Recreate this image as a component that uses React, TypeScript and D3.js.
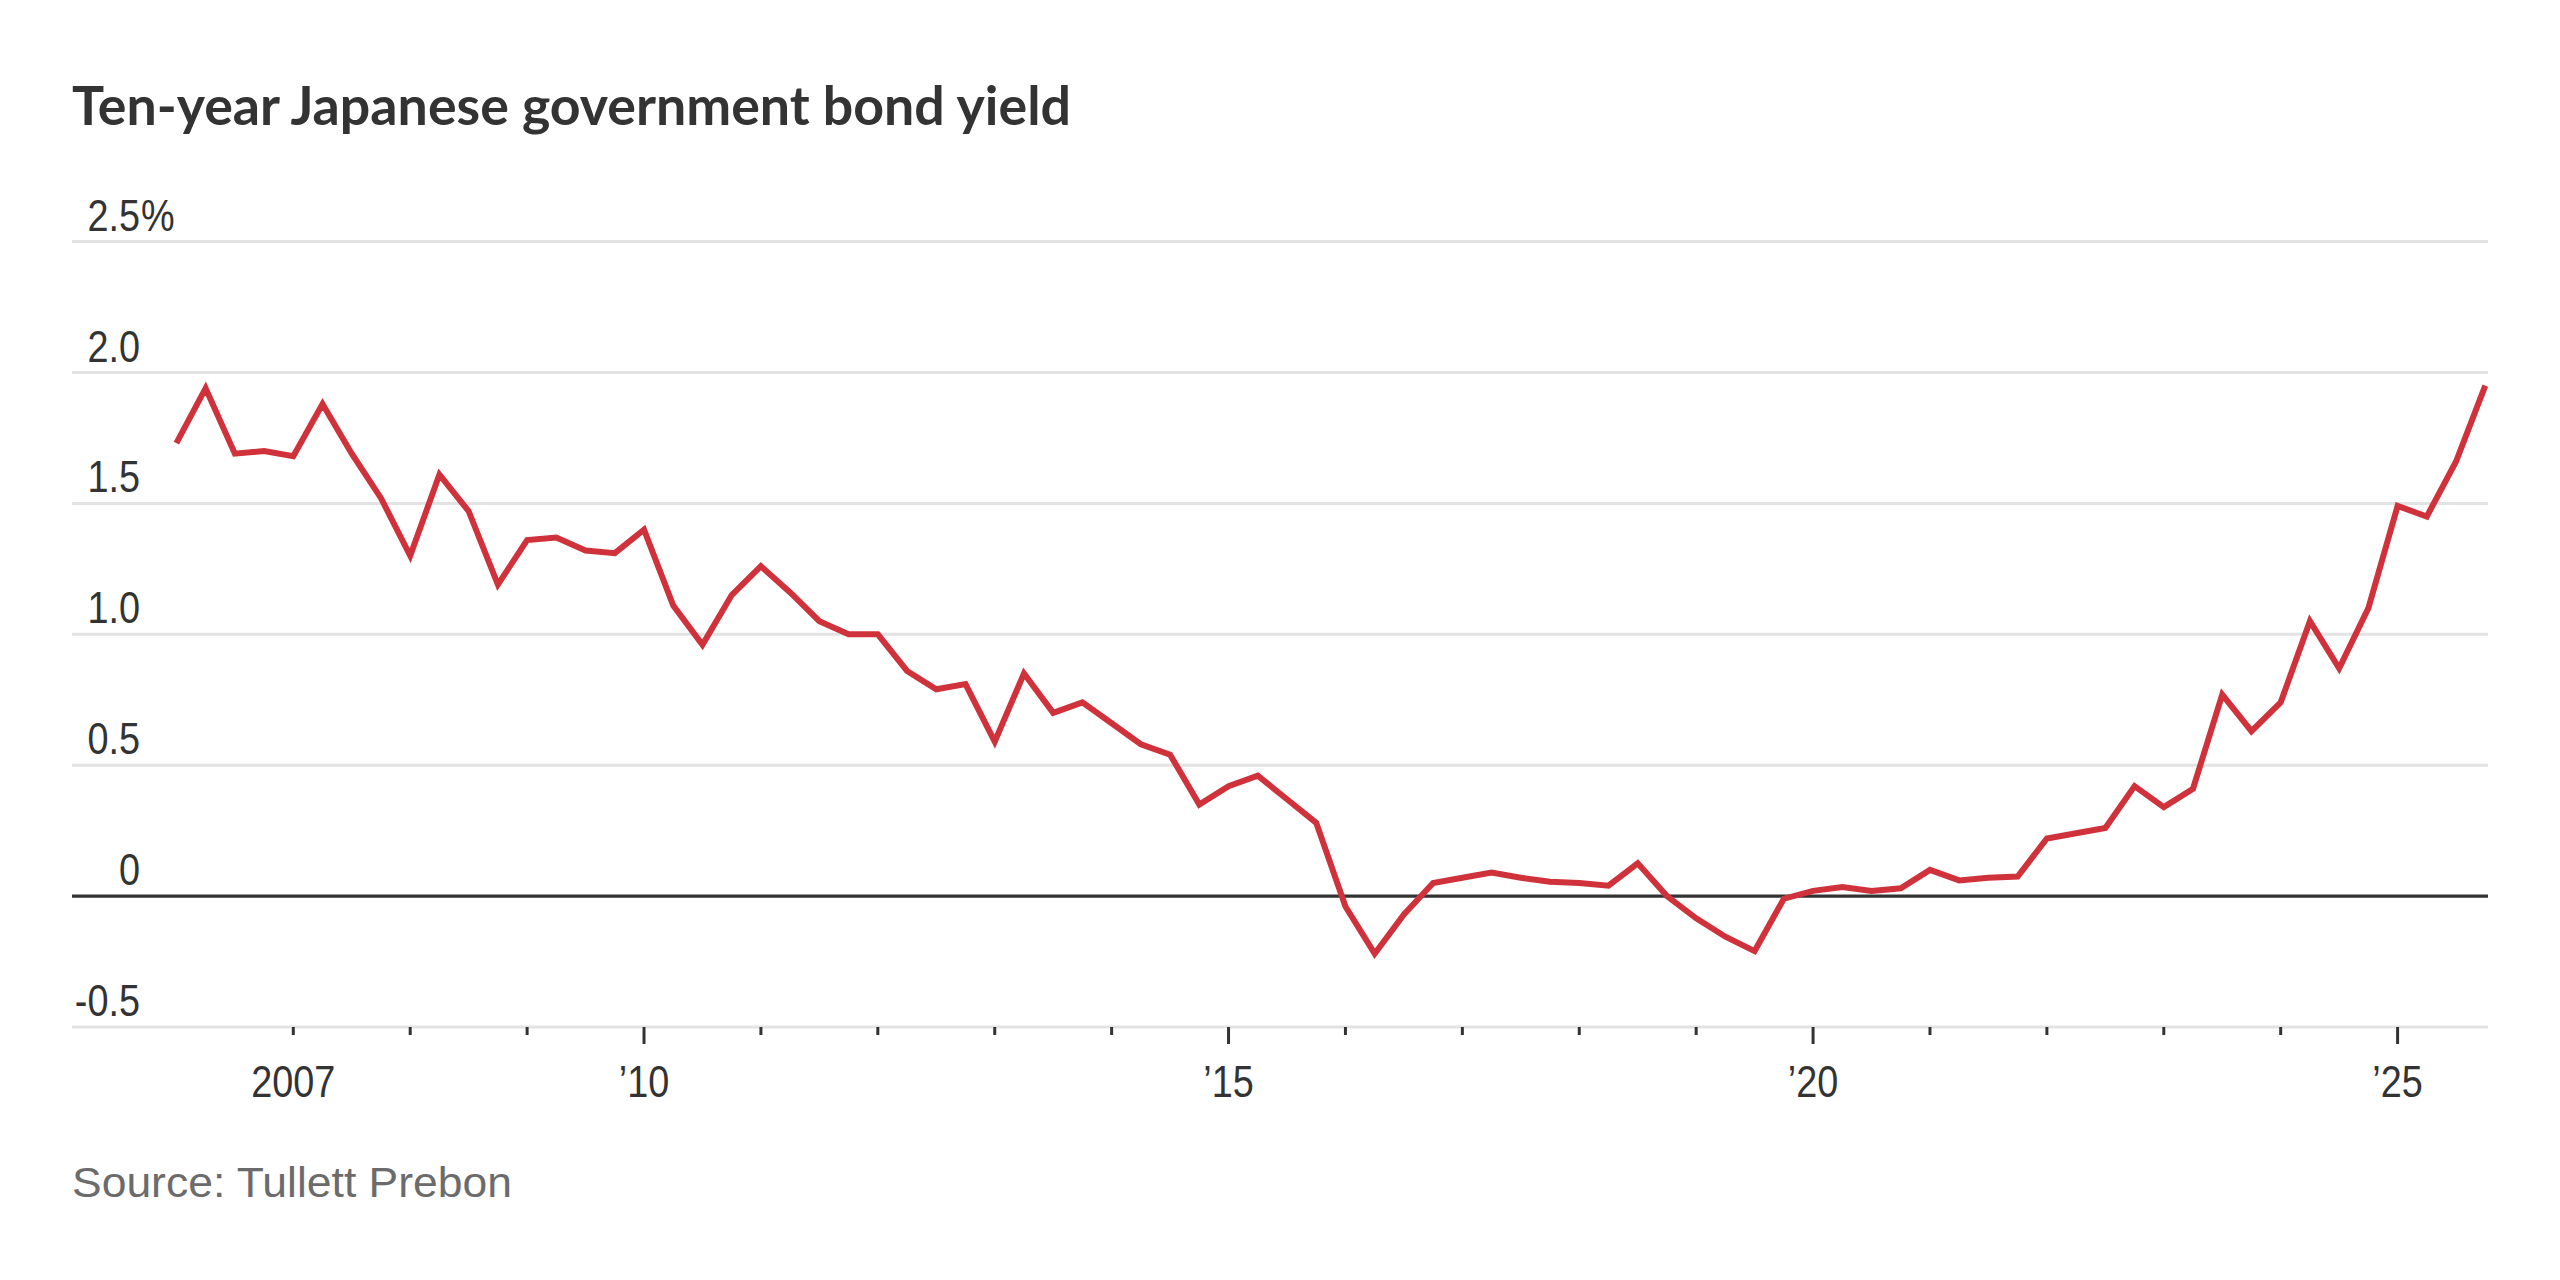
import * as d3 from "d3";

// Quarterly readings, first one is Q1 2006
const firstYear = 2006;
const yields = [
  1.73, 1.94, 1.69, 1.70,
  1.68, 1.88, 1.69, 1.52,
  1.30, 1.61, 1.47, 1.19,
  1.36, 1.37, 1.32, 1.31,
  1.40, 1.11, 0.96, 1.15,
  1.26, 1.16, 1.05, 1.00,
  1.00, 0.86, 0.79, 0.81,
  0.59, 0.85, 0.70, 0.74,
  0.66, 0.58, 0.54, 0.35,
  0.42, 0.46, 0.37, 0.28,
  -0.04, -0.22, -0.07, 0.05,
  0.07, 0.09, 0.07, 0.055,
  0.05, 0.04, 0.125, 0.0,
  -0.085, -0.155, -0.21, -0.01,
  0.02, 0.035, 0.02, 0.03,
  0.10, 0.06, 0.07, 0.075,
  0.22, 0.24, 0.26, 0.42,
  0.34, 0.41, 0.77, 0.63,
  0.74, 1.05, 0.87, 1.10,
  1.49, 1.45, 1.66, 1.95,
];

const yTicks = [-0.5, 0, 0.5, 1.0, 1.5, 2.0, 2.5];
const yTickLabels = ["-0.5", "0", "0.5", "1.0", "1.5", "2.0", "2.5"];
const xTickYears = d3.range(2007, 2026);
const xLabelYears = [2007, 2010, 2015, 2020, 2025];
const xLabels = ["2007", "\u201910", "\u201915", "\u201920", "\u201925"];
const majorYears = [2010, 2015, 2020, 2025];

const title = "Ten-year Japanese government bond yield";
const source = "Source: Tullett Prebon";

const W = 2560;
const H = 1280;
const left = 72;
const right = 2488;

// the original face is narrow, so squeeze a regular sans a bit
const numFont = "'Liberation Sans', Arial, sans-serif";
const squeeze = 0.86;

export default function App() {
  const x = d3.scaleLinear().domain([2007, 2025]).range([293.3, 2397.6]);
  const y = d3.scaleLinear().domain([-0.5, 2.5]).range([1027, 241.6]);

  const line = d3
    .line<number>()
    .x((_, i) => x(firstYear + i / 4))
    .y((d) => y(d));

  return (
    <svg
      width={W}
      height={H}
      style={{ position: "absolute", left: 0, top: 0, background: "#fff" }}
    >
      <rect width={W} height={H} fill="#fff" />
      <text
        x={left}
        y={125}
        fontFamily="Lato, 'Noto Sans', sans-serif"
        fontWeight={700}
        fontSize={53}
        fill="#333"
        textLength={999}
        lengthAdjust="spacingAndGlyphs"
      >
        {title}
      </text>

      {/* gridlines */}
      {yTicks.map((t) =>
        t === 0 ? null : (
          <line
            key={t}
            x1={left}
            x2={right}
            y1={y(t)}
            y2={y(t)}
            stroke="#e3e3e3"
            strokeWidth={3}
          />
        )
      )}

      {/* y labels */}
      {yTicks.map((t, i) => (
        <text
          key={"l" + t}
          transform={`translate(140,${y(t) - 11}) scale(${squeeze},1)`}
          textAnchor="end"
          fontFamily={numFont}
          fontSize={44}
          fill="#333"
        >
          {yTickLabels[i]}
        </text>
      ))}
      <text
        transform={`translate(141,${y(2.5) - 11}) scale(${squeeze},1)`}
        fontFamily={numFont}
        fontSize={44}
        fill="#333"
      >
        %
      </text>

      {/* x ticks */}
      {xTickYears.map((yr) => (
        <line
          key={"t" + yr}
          x1={x(yr)}
          x2={x(yr)}
          y1={y(-0.5)}
          y2={y(-0.5) + (majorYears.includes(yr) ? 17 : 8)}
          stroke="#333"
          strokeWidth={3}
        />
      ))}
      {xLabelYears.map((yr, i) => (
        <text
          key={"x" + yr}
          transform={`translate(${x(yr)},1097) scale(${squeeze},1)`}
          textAnchor="middle"
          fontFamily={numFont}
          fontSize={44}
          fill="#333"
        >
          {xLabels[i]}
        </text>
      ))}

      {/* zero line */}
      <line x1={left} x2={right} y1={y(0)} y2={y(0)} stroke="#333" strokeWidth={3.2} />

      <path
        d={line(yields) ?? ""}
        fill="none"
        stroke="#d0323c"
        strokeWidth={6}
        strokeLinejoin="miter"
      />

      <text
        x={left}
        y={1197}
        fontFamily="'Liberation Sans', Arial, sans-serif"
        fontSize={43}
        fill="#6b6b6b"
        textLength={440}
        lengthAdjust="spacingAndGlyphs"
      >
        {source}
      </text>
    </svg>
  );
}
